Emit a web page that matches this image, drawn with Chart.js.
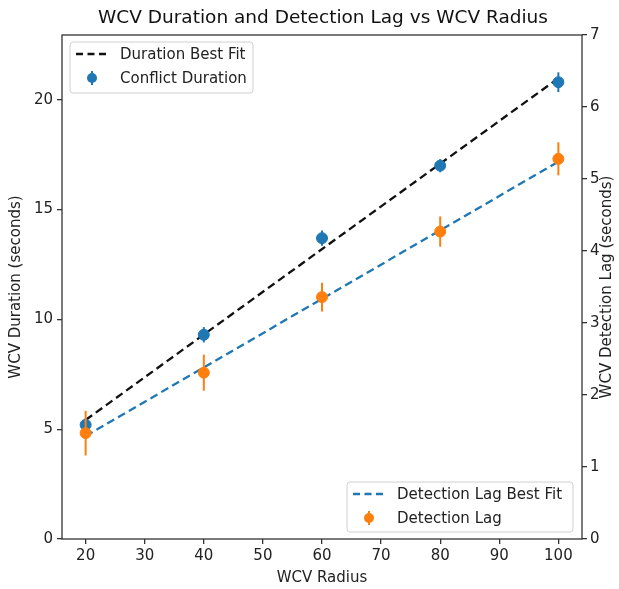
<!DOCTYPE html>
<html lang="en">
<head>
    <meta charset="UTF-8">
    <title>WCV Duration and Detection Lag vs WCV Radius</title>
    <script src="https://cdn.jsdelivr.net/npm/chart.js"></script>
    <style>
        body { margin: 0; background: #fff; }
    </style>
</head>

<body>
    <canvas id="wcvChart" width="619" height="589"></canvas>

    <script>
        // Data
        const radius = [20, 40, 60, 80, 100];
        const duration = [5.2, 9.3, 13.7, 17.0, 20.8];
        const durationErr = [0.3, 0.35, 0.35, 0.3, 0.45];
        const lag = [1.47, 2.31, 3.36, 4.27, 5.28];
        const lagErr = [0.31, 0.25, 0.2, 0.21, 0.23];
        const fitX = [20, 100];
        const durationFit = [5.42, 20.98];
        const lagFit = [1.43, 5.24];

        const xTicks = { min: 16, max: 104, step: 10 };
        const yTicks = { min: 0, max: 22.95, step: 5 };
        const y2Ticks = { min: 0, max: 7, step: 1 };

        const FONT = 'DejaVu Sans';
        const BLUE = '#1f77b4';
        const ORANGE = '#ff7f0e';
        const TEXT = '#222';

        const pts = (xs, ys) => xs.map((x, i) => ({ x: x, y: ys[i] }));

        // error bars, drawn under the markers
        const errorBars = {
            id: 'errorBars',
            beforeDatasetDraw(chart, args) {
                const ds = chart.data.datasets[args.index];
                if (!ds.errors) return;
                const ctx = chart.ctx;
                const xs = chart.scales.x;
                const ys = chart.scales[ds.yAxisID];
                ctx.save();
                ctx.strokeStyle = ds.backgroundColor;
                ctx.lineWidth = 2;
                ds.data.forEach((p, i) => {
                    const px = xs.getPixelForValue(p.x);
                    ctx.beginPath();
                    ctx.moveTo(px, ys.getPixelForValue(p.y - ds.errors[i]));
                    ctx.lineTo(px, ys.getPixelForValue(p.y + ds.errors[i]));
                    ctx.stroke();
                });
                ctx.restore();
            }
        };

        function drawLegend(ctx, bx, by, bw, bh, items) {
            ctx.save();
            ctx.beginPath();
            ctx.roundRect(bx, by, bw, bh, 3);
            ctx.fillStyle = 'rgba(255,255,255,0.85)';
            ctx.fill();
            ctx.strokeStyle = '#d0d0d0';
            ctx.lineWidth = 1;
            ctx.stroke();
            items.forEach((it, i) => {
                const cy = by + 12 + i * 24;
                if (it.dash) {
                    ctx.strokeStyle = it.color;
                    ctx.lineWidth = 2.3;
                    ctx.setLineDash([7, 4.5]);
                    ctx.beginPath();
                    ctx.moveTo(bx + 6, cy);
                    ctx.lineTo(bx + 36, cy);
                    ctx.stroke();
                    ctx.setLineDash([]);
                } else {
                    ctx.strokeStyle = it.color;
                    ctx.lineWidth = 2;
                    ctx.beginPath();
                    ctx.moveTo(bx + 22, cy - 7);
                    ctx.lineTo(bx + 22, cy + 7);
                    ctx.stroke();
                    ctx.fillStyle = it.color;
                    ctx.beginPath();
                    ctx.arc(bx + 22, cy, 5, 0, Math.PI * 2);
                    ctx.fill();
                }
                ctx.fillStyle = TEXT;
                ctx.font = '15px "' + FONT + '"';
                ctx.textBaseline = 'middle';
                ctx.fillText(it.text, bx + 50, cy + 1);
            });
            ctx.restore();
        }

        // frame, title, right axis label and the two legends
        const decorations = {
            id: 'decorations',
            afterDraw(chart) {
                const ctx = chart.ctx;
                const a = chart.chartArea;
                ctx.save();
                ctx.strokeStyle = '#333';
                ctx.lineWidth = 1.3;
                ctx.strokeRect(a.left, a.top, a.right - a.left, a.bottom - a.top);
                ctx.fillStyle = '#111';
                ctx.font = '18.5px "' + FONT + '"';
                ctx.textAlign = 'center';
                ctx.textBaseline = 'middle';
                ctx.fillText('WCV Duration and Detection Lag vs WCV Radius', (a.left + a.right) / 2 + 1, 18);

                // right label reads bottom-to-top like the left one
                ctx.translate(607, (a.top + a.bottom) / 2);
                ctx.rotate(-Math.PI / 2);
                ctx.fillStyle = TEXT;
                ctx.font = '15px "' + FONT + '"';
                ctx.fillText('WCV Detection Lag (seconds)', 0, 0);
                ctx.restore();

                const ds = chart.data.datasets;
                drawLegend(ctx, 70, 42, 183, 51, [
                    { text: ds[0].label, color: ds[0].borderColor, dash: true },
                    { text: ds[1].label, color: ds[1].backgroundColor }
                ]);
                drawLegend(ctx, 347, 482, 226, 50, [
                    { text: ds[2].label, color: ds[2].borderColor, dash: true },
                    { text: ds[3].label, color: ds[3].backgroundColor }
                ]);
            }
        };

        const tickFont = { family: FONT, size: 15 };
        const titleFont = { family: FONT, size: 15 };
        const gridOpts = { drawOnChartArea: false, drawTicks: true, tickLength: 5, color: '#333', lineWidth: 1.3 };

        const ctx = document.getElementById('wcvChart').getContext('2d');
        new Chart(ctx, {
            type: 'scatter',
            data: {
                datasets: [
                    {
                        type: 'line',
                        label: 'Duration Best Fit',
                        data: pts(fitX, durationFit),
                        yAxisID: 'y',
                        borderColor: '#111',
                        borderWidth: 2.3,
                        borderDash: [8, 4.5],
                        pointRadius: 0,
                        order: 4
                    },
                    {
                        label: 'Conflict Duration',
                        data: pts(radius, duration),
                        errors: durationErr,
                        yAxisID: 'y',
                        backgroundColor: BLUE,
                        borderColor: BLUE,
                        pointRadius: 5.5,
                        order: 3
                    },
                    {
                        type: 'line',
                        label: 'Detection Lag Best Fit',
                        data: pts(fitX, lagFit),
                        yAxisID: 'y2',
                        borderColor: BLUE,
                        borderWidth: 2.3,
                        borderDash: [8, 4.5],
                        pointRadius: 0,
                        order: 2
                    },
                    {
                        label: 'Detection Lag',
                        data: pts(radius, lag),
                        errors: lagErr,
                        yAxisID: 'y2',
                        backgroundColor: ORANGE,
                        borderColor: ORANGE,
                        pointRadius: 5.5,
                        order: 1
                    }
                ]
            },
            options: {
                responsive: false,
                animation: false,
                layout: { padding: { top: 35 } },
                plugins: {
                    legend: { display: false },
                    tooltip: { enabled: false }
                },
                scales: {
                    x: {
                        type: 'linear',
                        position: 'bottom',
                        min: xTicks.min,
                        max: xTicks.max,
                        afterFit: s => { s.height = 50; },
                        border: { display: false },
                        grid: gridOpts,
                        ticks: { stepSize: xTicks.step, includeBounds: false, font: tickFont, color: TEXT, padding: 3 },
                        title: { display: true, text: 'WCV Radius', font: titleFont, color: TEXT, padding: { top: 0, bottom: 2 } }
                    },
                    y: {
                        position: 'left',
                        min: yTicks.min,
                        max: yTicks.max,
                        afterFit: s => { s.width = 62; },
                        border: { display: false },
                        grid: gridOpts,
                        ticks: { stepSize: yTicks.step, includeBounds: false, font: tickFont, color: TEXT, padding: 4 },
                        title: { display: true, text: 'WCV Duration (seconds)', font: titleFont, color: TEXT, padding: { top: 7, bottom: 0 } }
                    },
                    y2: {
                        position: 'right',
                        min: y2Ticks.min,
                        max: y2Ticks.max,
                        afterFit: s => { s.width = 37; },
                        border: { display: false },
                        grid: gridOpts,
                        ticks: { stepSize: y2Ticks.step, includeBounds: false, font: tickFont, color: TEXT, padding: 3 }
                    }
                }
            },
            plugins: [errorBars, decorations]
        });
    </script>
</body>
</html>
